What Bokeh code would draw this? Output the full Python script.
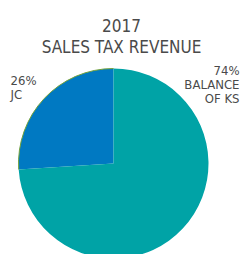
import math
from bokeh.plotting import figure
from bokeh.models import Range1d, ColumnDataSource
from bokeh.core.properties import value
from bokeh.embed import file_html
from bokeh.resources import INLINE

title_lines = ["2017", "SALES TAX REVENUE"]
categories = ["JC", "BALANCE OF KS"]
values = [26, 74]
colors = ["#0079C2", "#00A3A6"]
label_jc = ["26%", "JC"]
label_ks = ["74%", "BALANCE", "OF KS"]

W, H = 242, 254
FONT = value("'DejaVu Sans Condensed', 'DejaVu Sans', sans-serif")
TXT = "#4a4a4a"

p = figure(width=W, height=H, output_backend="svg", toolbar_location=None,
           x_range=Range1d(0, W), y_range=Range1d(0, H), min_border=0)
p.axis.visible = False
p.grid.visible = False
p.outline_line_color = None
p.background_fill_color = "white"

def ty(y_top):
    return H - y_top

cx, cy, r = 113, ty(163), 95
total = sum(values)
starts, ends = [], []
a = math.pi / 2
for v in values:
    starts.append(a)
    a += 2 * math.pi * v / total
    ends.append(a)

src = ColumnDataSource(dict(start=starts, end=ends, color=colors, cat=categories))
p.wedge(x=cx, y=cy, radius=r, start_angle="start", end_angle="end",
        fill_color="color", line_color=None, source=src)
p.arc(x=cx, y=cy, radius=r, start_angle=starts[0], end_angle=ends[0],
      line_color="#74a23a", line_width=1)

p.text(x=[121, 121], y=[ty(25), ty(46)], text=title_lines, text_font=FONT,
       text_font_size="17px", text_color=TXT, text_align="center",
       text_baseline="alphabetic")
p.text(x=[10, 10], y=[ty(80), ty(94)], text=label_jc, text_font=FONT,
       text_font_size="13px", text_color=TXT, text_align="left",
       text_baseline="alphabetic")
p.text(x=[239, 239, 239], y=[ty(70), ty(84), ty(98)], text=label_ks,
       text_font=FONT, text_font_size="13px", text_color=TXT,
       text_align="right", text_baseline="alphabetic")

open("out.html", "w").write(file_html(p, INLINE))
